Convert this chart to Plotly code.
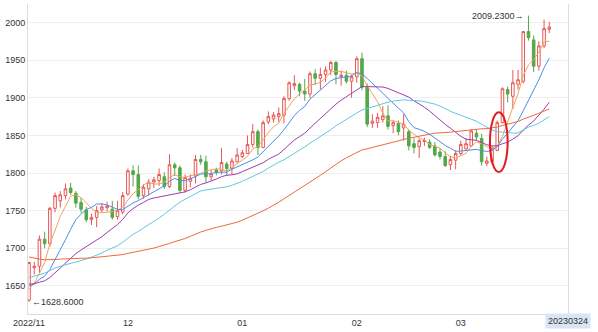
import pandas as pd
import plotly.graph_objects as go

# Daily gold quotes, 2022-11-04 .. 2023-03-24
dates = [
    "20221104", "20221107", "20221108", "20221109", "20221110", "20221111",
    "20221114", "20221115", "20221116", "20221117", "20221118",
    "20221121", "20221122", "20221123", "20221124", "20221125",
    "20221128", "20221129", "20221130",
    "20221201", "20221202", "20221205", "20221206", "20221207", "20221208", "20221209",
    "20221212", "20221213", "20221214", "20221215", "20221216",
    "20221219", "20221220", "20221221", "20221222", "20221223",
    "20221226", "20221227", "20221228", "20221229", "20221230",
    "20230102", "20230103", "20230104", "20230105", "20230106",
    "20230109", "20230110", "20230111", "20230112", "20230113",
    "20230116", "20230117", "20230118", "20230119", "20230120",
    "20230123", "20230124", "20230125", "20230126", "20230127",
    "20230130", "20230131",
    "20230201", "20230202", "20230203", "20230206", "20230207", "20230208", "20230209", "20230210",
    "20230213", "20230214", "20230215", "20230216", "20230217",
    "20230220", "20230221", "20230222", "20230223", "20230224",
    "20230227", "20230228",
    "20230301", "20230302", "20230303", "20230306", "20230307", "20230308", "20230309", "20230310",
    "20230313", "20230314", "20230315", "20230316", "20230317",
    "20230320", "20230321", "20230322", "20230323", "20230324",
]

opens = [
    1631, 1674, 1676, 1712, 1706, 1753, 1763, 1770, 1780, 1773, 1761, 1751, 1738, 1741, 1751, 1754, 1752, 1742, 1748,
    1772, 1803, 1798, 1770, 1779, 1788, 1790, 1795, 1782, 1811, 1807, 1777, 1789, 1796, 1818, 1815, 1795, 1804, 1803, 1812, 1806, 1815,
    1822, 1826, 1838, 1855, 1834, 1868, 1872, 1875, 1877, 1899, 1916, 1918, 1909, 1905, 1932, 1926, 1931, 1937, 1947, 1928, 1930, 1922,
    1928, 1952, 1914, 1866, 1867, 1871, 1876, 1863, 1866, 1860, 1855, 1839, 1835, 1842, 1841, 1836, 1828, 1822, 1811, 1817,
    1826, 1832, 1836, 1853, 1846, 1813, 1815, 1830, 1867, 1911, 1902, 1918, 1922, 1988, 1977, 1942, 1969, 1991,
]
highs = [
    1682, 1682, 1717, 1722, 1755, 1774, 1776, 1786, 1787, 1776, 1767, 1755, 1746, 1756, 1760, 1762, 1763, 1763, 1775,
    1806, 1810, 1810, 1785, 1792, 1795, 1806, 1801, 1825, 1814, 1810, 1798, 1798, 1824, 1824, 1823, 1804, 1807, 1833, 1815, 1820, 1833,
    1831, 1850, 1865, 1858, 1870, 1882, 1881, 1887, 1902, 1922, 1930, 1920, 1925, 1935, 1938, 1940, 1942, 1949, 1949, 1936, 1936, 1931,
    1955, 1960, 1919, 1878, 1880, 1889, 1890, 1870, 1870, 1878, 1858, 1846, 1846, 1847, 1845, 1841, 1833, 1829, 1823, 1830,
    1843, 1846, 1858, 1858, 1852, 1822, 1836, 1870, 1914, 1915, 1937, 1937, 1989, 2009.23, 1983, 1975, 2004, 2001,
]
lows = [
    1628.6, 1665, 1667, 1700, 1702, 1748, 1754, 1765, 1771, 1754, 1747, 1735, 1731, 1728, 1748, 1749, 1738, 1738, 1745,
    1770, 1782, 1765, 1766, 1770, 1780, 1783, 1779, 1780, 1796, 1774, 1774, 1781, 1786, 1811, 1787, 1790, 1797, 1798, 1796, 1798, 1814,
    1820, 1826, 1834, 1824, 1833, 1865, 1867, 1868, 1866, 1896, 1910, 1902, 1896, 1900, 1917, 1911, 1921, 1930, 1918, 1916, 1919, 1900,
    1920, 1910, 1861, 1860, 1860, 1867, 1858, 1853, 1850, 1843, 1830, 1826, 1820, 1836, 1832, 1822, 1818, 1808, 1804, 1805,
    1823, 1831, 1835, 1843, 1810, 1809, 1812, 1829, 1866, 1894, 1885, 1911, 1919, 1976, 1934, 1936, 1966, 1986,
]
closes = [
    1681, 1676, 1712, 1706, 1753, 1770, 1771, 1779, 1774, 1760, 1752, 1738, 1741, 1750, 1755, 1756, 1741, 1750, 1770,
    1803, 1798, 1769, 1781, 1788, 1791, 1798, 1782, 1811, 1807, 1777, 1794, 1793, 1818, 1815, 1795, 1799, 1801, 1814, 1806, 1816, 1824,
    1827, 1838, 1855, 1834, 1867, 1875, 1877, 1879, 1899, 1920, 1919, 1909, 1905, 1932, 1926, 1931, 1937, 1947, 1931, 1930, 1922, 1928,
    1952, 1914, 1865, 1869, 1874, 1876, 1862, 1867, 1855, 1865, 1836, 1834, 1843, 1843, 1834, 1824, 1822, 1810, 1818, 1826,
    1838, 1839, 1856, 1848, 1815, 1816, 1833, 1867, 1912, 1905, 1920, 1924, 1988, 1980, 1942, 1969, 1992, 1994,
]

# Closes of the 59 sessions before the first candle (2022-08-15 .. 2022-11-03),
# needed so the moving averages are defined from the first day on.
warmup_closes = [
    1779, 1776, 1761, 1758, 1747, 1736, 1748, 1751, 1758, 1737,
    1738, 1723, 1711, 1697, 1712, 1710, 1702, 1718, 1708, 1716,
    1725, 1702, 1697, 1665, 1675, 1675, 1664, 1674, 1671, 1644,
    1622, 1629, 1660, 1660, 1661, 1700, 1725, 1716, 1712, 1695,
    1668, 1666, 1673, 1666, 1644, 1664, 1652, 1629, 1627, 1657,
    1649, 1652, 1665, 1663, 1645, 1633, 1647, 1635, 1630,
]

ma_windows = [5, 10, 20, 30, 60]
ma_colors = ["#f2a35c", "#4a8fe6", "#a03cae", "#62c6e2", "#ec6a3c"]

tick_dates = ["20221104", "20221201", "20230102", "20230201", "20230301"]
tick_text = ["2022/11", "12", "01", "02", "03"]
price_ticks = [1650, 1700, 1750, 1800, 1850, 1900, 1950, 2000]

UP = "#e95656"
DOWN = "#52a84a"
FONT = dict(family="Liberation Sans, Arial, sans-serif", size=9, color="#333333")
Y_RANGE = [1612.6, 2024.7]

fig = go.Figure()

fig.add_trace(go.Candlestick(
    x=dates, open=opens, high=highs, low=lows, close=closes,
    increasing=dict(line=dict(color=UP, width=1), fillcolor="#ffffff"),
    decreasing=dict(line=dict(color=DOWN, width=1), fillcolor=DOWN),
    whiskerwidth=0, showlegend=False, hoverinfo="skip",
))

all_closes = pd.Series(warmup_closes + closes, dtype=float)
n = len(closes)
for w, c in zip(ma_windows, ma_colors):
    ma = all_closes.rolling(w).mean().iloc[-n:].tolist()
    fig.add_trace(go.Scatter(
        x=dates, y=ma, mode="lines", line=dict(color=c, width=1),
        name=f"MA{w}", showlegend=False, hoverinfo="skip",
    ))

# extreme-value labels (category axis: positions given as candle index)
i_hi = max(range(n), key=lambda i: highs[i])
i_lo = min(range(n), key=lambda i: lows[i])
annotations = [
    dict(x=i_hi, y=highs[i_hi], xref="x", yref="y", text=f"{highs[i_hi]:.4f}\u2192",
         xanchor="right", yanchor="middle", xshift=-2, showarrow=False, font=FONT),
    dict(x=i_lo, y=lows[i_lo], xref="x", yref="y", text=f"\u2190{lows[i_lo]:.4f}",
         xanchor="left", yanchor="middle", xshift=1, showarrow=False, font=FONT),
    dict(x=1, y=-0.024, xref="paper", yref="paper", text=dates[-1],
         xanchor="center", yanchor="middle", showarrow=False, font=FONT,
         bgcolor="#d9e5f6", borderpad=2),
]

fig.update_layout(
    width=598, height=332,
    margin=dict(l=28, r=30, t=4, b=16),
    paper_bgcolor="#ffffff", plot_bgcolor="#ffffff",
    showlegend=False,
    annotations=annotations,
    shapes=[dict(type="circle", xref="x", yref="y",
                 x0=88.6, x1=92.0, y0=1801.5, y1=1880.7,
                 line=dict(color="#e01b1b", width=2), layer="above")],
    xaxis=dict(
        type="category", range=[-0.2, 103.6],
        rangeslider=dict(visible=False),
        showgrid=False, zeroline=False,
        showline=True, linecolor="#dddddd", linewidth=1,
        tickmode="array", tickvals=tick_dates, ticktext=tick_text,
        ticks="", tickfont=FONT,
    ),
    yaxis=dict(
        range=Y_RANGE, tickvals=price_ticks,
        showgrid=True, gridcolor="#eeeeee", gridwidth=1, zeroline=False,
        showline=True, mirror=True, linecolor="#dddddd", linewidth=1,
        ticks="", tickfont=FONT,
    ),
    yaxis2=dict(
        range=Y_RANGE, tickvals=price_ticks, overlaying="y", side="right",
        showgrid=False, zeroline=False, showline=False,
        ticks="", tickfont=FONT,
    ),
)

fig.write_html("out.html")
